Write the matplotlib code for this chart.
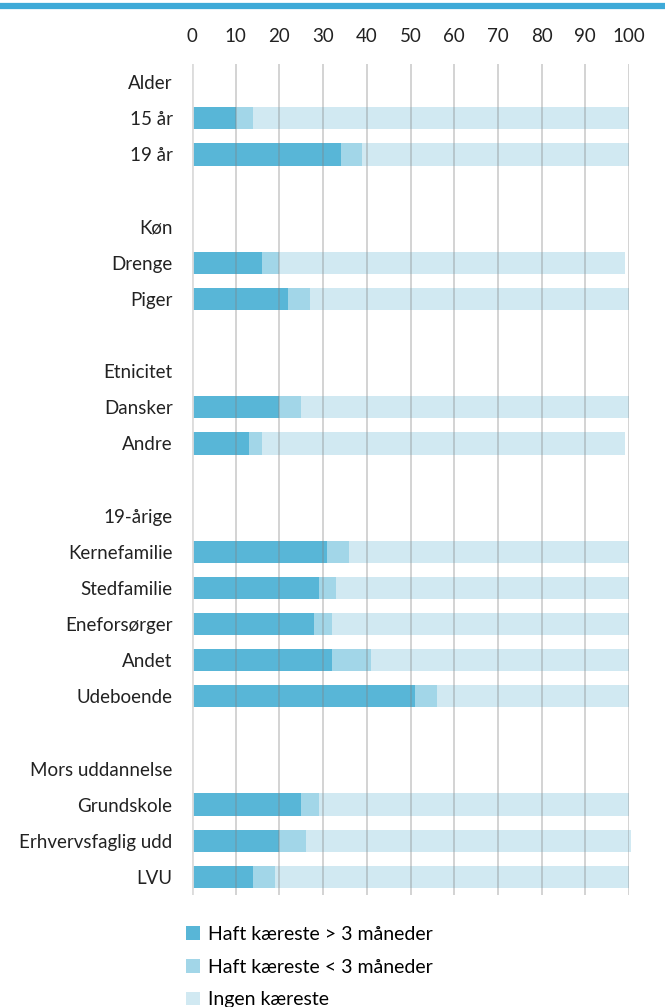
import numpy as np
import matplotlib.pyplot as plt
from matplotlib.patches import Patch

plt.rcParams['font.family'] = ['Lato', 'DejaVu Sans']

# rows, top to bottom; headers have no bars (None)
labels = ['Alder', '15 år', '19 år', '',
          'Køn', 'Drenge', 'Piger', '',
          'Etnicitet', 'Dansker', 'Andre', '',
          '19-årige', 'Kernefamilie', 'Stedfamilie', 'Eneforsørger', 'Andet', 'Udeboende', '',
          'Mors uddannelse', 'Grundskole', 'Erhvervsfaglig udd', 'LVU']
over3 = [None, 10, 34, None,
         None, 16, 22, None,
         None, 20, 13, None,
         None, 31, 29, 28, 32, 51, None,
         None, 25, 20, 14]
under3 = [None, 4, 5, None,
          None, 4, 5, None,
          None, 5, 3, None,
          None, 5, 4, 4, 9, 5, None,
          None, 4, 6, 5]
ingen = [None, 86, 61, None,
         None, 79, 73, None,
         None, 75, 83, None,
         None, 64, 67, 68, 59, 44, None,
         None, 71, 74.5, 81]
series_names = ['Haft kæreste > 3 måneder', 'Haft kæreste < 3 måneder', 'Ingen kæreste']
colors = ['#58b6d7', '#a2d6e8', '#d1e9f2']

fig = plt.figure(figsize=(6.65, 10.07), dpi=100)
ax = fig.add_axes([192/665, 1-895/1007, (629-192)/665, (895-64)/1007])

n = len(labels)
y = np.arange(n)
for i in range(n):
    if over3[i] is None:
        continue
    left = 0
    for val, c in zip([over3[i], under3[i], ingen[i]], colors):
        ax.barh(y[i], val, left=left, height=0.62, color=c, zorder=1, clip_on=False)
        left += val

# gridlines on top of bars
for gx in range(0, 101, 10):
    if gx == 0:
        ax.axvline(gx, color='#dcdcdc', lw=2, zorder=3)
    else:
        ax.axvline(gx, color='#808080', lw=1.2, alpha=0.4, zorder=3)

ax.set_ylim(n - 0.5, -0.5)
ax.set_xlim(0, 100)
ax.set_yticks(y)
ax.set_yticklabels(labels, fontsize=13.5, color='#222222')
ax.set_xticks(range(0, 101, 10))
ax.xaxis.tick_top()
ax.tick_params(axis='x', length=0, pad=14, labelsize=13.5, labelcolor='#222222')
ax.tick_params(axis='y', length=0, pad=14)
for s in ax.spines.values():
    s.set_visible(False)

# blue line across the top
fig.add_artist(plt.Line2D([0, 1], [1-6/1007, 1-6/1007], color='#3eaad8', lw=4.5,
                          transform=fig.transFigure))

handles = [Patch(facecolor=c, edgecolor='none') for c in colors]
fig.legend(handles, series_names, loc='upper left', bbox_to_anchor=(186/665, 1-926/1007),
           frameon=False, fontsize=14, handlelength=0.7, handleheight=0.7,
           handletextpad=0.45, labelspacing=0.8, borderaxespad=0, borderpad=0)

fig.savefig('out.png', dpi=100)
